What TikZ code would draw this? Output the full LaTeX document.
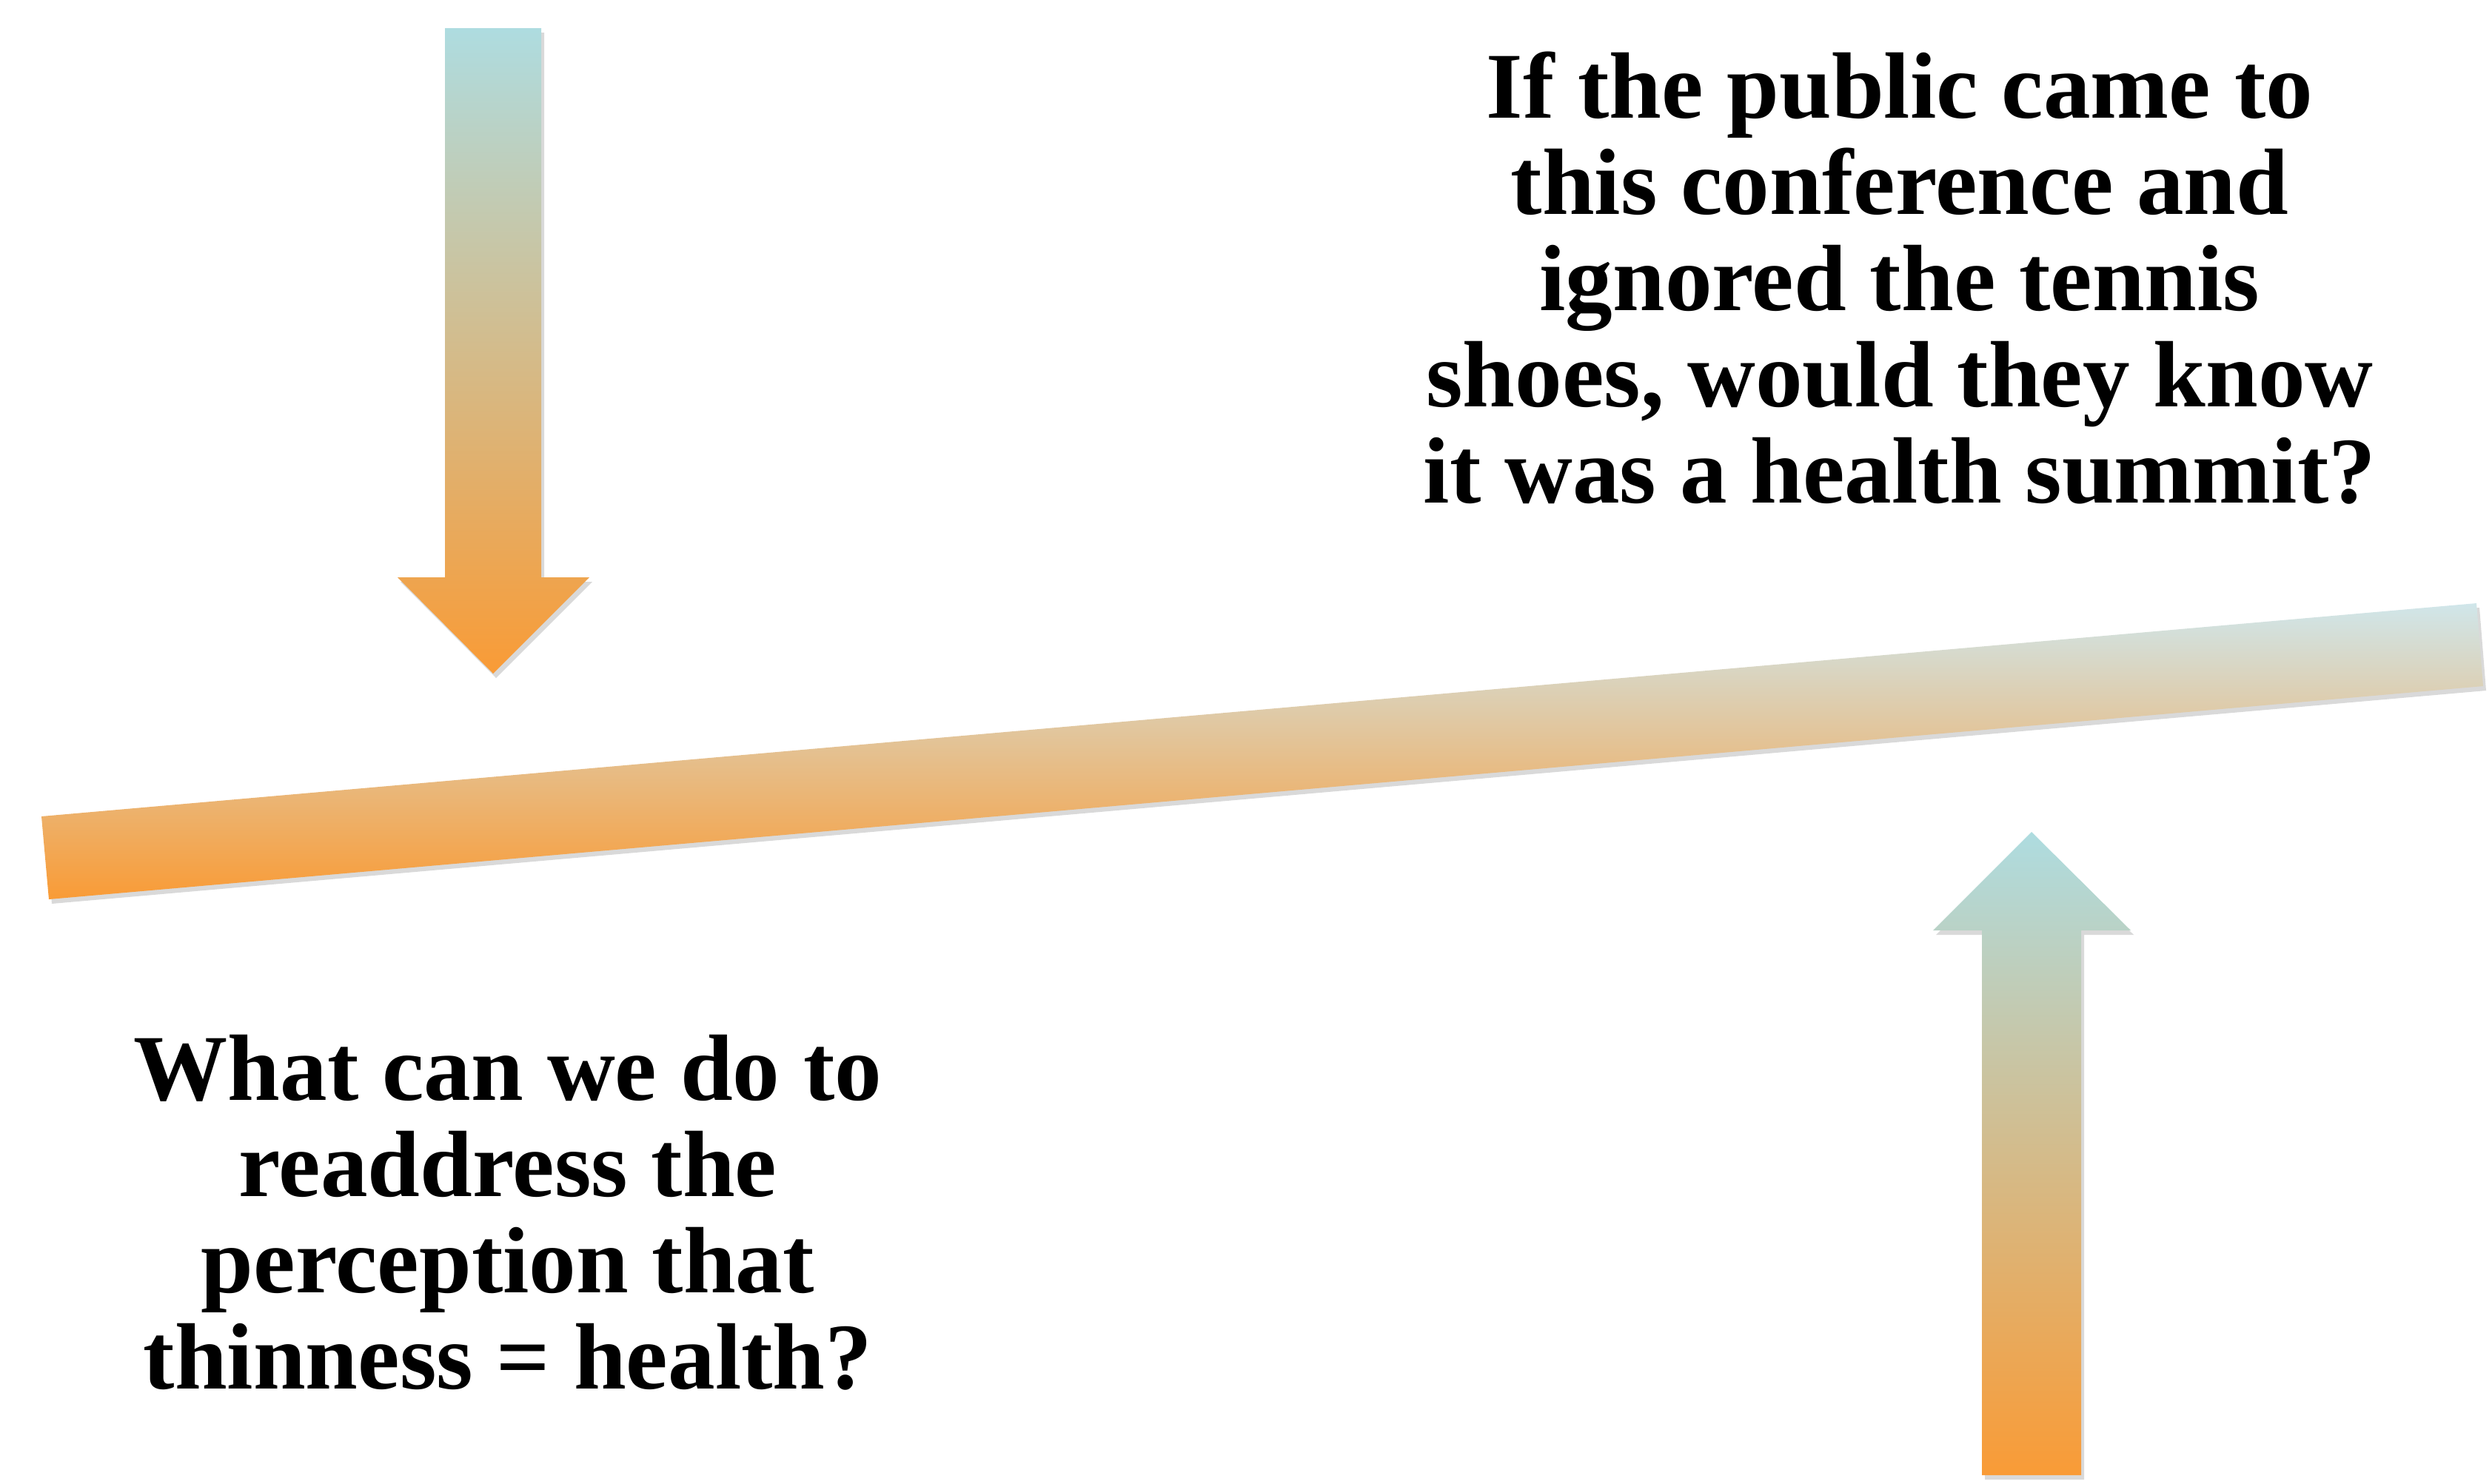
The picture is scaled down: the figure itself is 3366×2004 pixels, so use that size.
\documentclass[tikz,border=0pt]{standalone}
\usepackage{fontspec}
\setmainfont{Liberation Serif}
\usetikzlibrary{shadows}
\definecolor{skyblue}{HTML}{AEDCE0}
\definecolor{paleblue}{HTML}{D0E6EA}
\definecolor{peach}{HTML}{F99B36}
\tikzset{
  grad/.style={top color=skyblue, bottom color=peach,
    drop shadow={opacity=.3, shadow xshift=.4mm, shadow yshift=-.6mm}},
  question/.style={align=center, inner sep=0pt, anchor=north,
    font=\bfseries\fontsize{36.2}{37}\selectfont}
}
\begin{document}
\begin{tikzpicture}[x=0.1mm, y=-0.1mm]
\useasboundingbox (0,0) rectangle (3366,2004);

% the tilted bar
\path[grad, top color=paleblue](56,1103)--(3345,815)--(3354,927)--(66,1215)--cycle;

% arrow pushing down
\path[grad](601,38)--(731,38)--(731,780)--(796,780)--(666,910)--(537,780)--(601,780)--cycle;

% arrow pushing up
\path[grad](2744,1124)--(2878,1257)--(2811,1257)--(2811,1993)--(2677,1993)--(2677,1257)--(2611,1257)--cycle;

\node[question] (summit) at (2566,69) {If the public came to\\ this conference and\\ ignored the tennis\\ shoes, would they know\\ it was a health summit?};
\node[question] (thinness) at (686,1397) {What can we do to\\ readdress the\\ perception that\\ thinness = health?};
\end{tikzpicture}
\end{document}
